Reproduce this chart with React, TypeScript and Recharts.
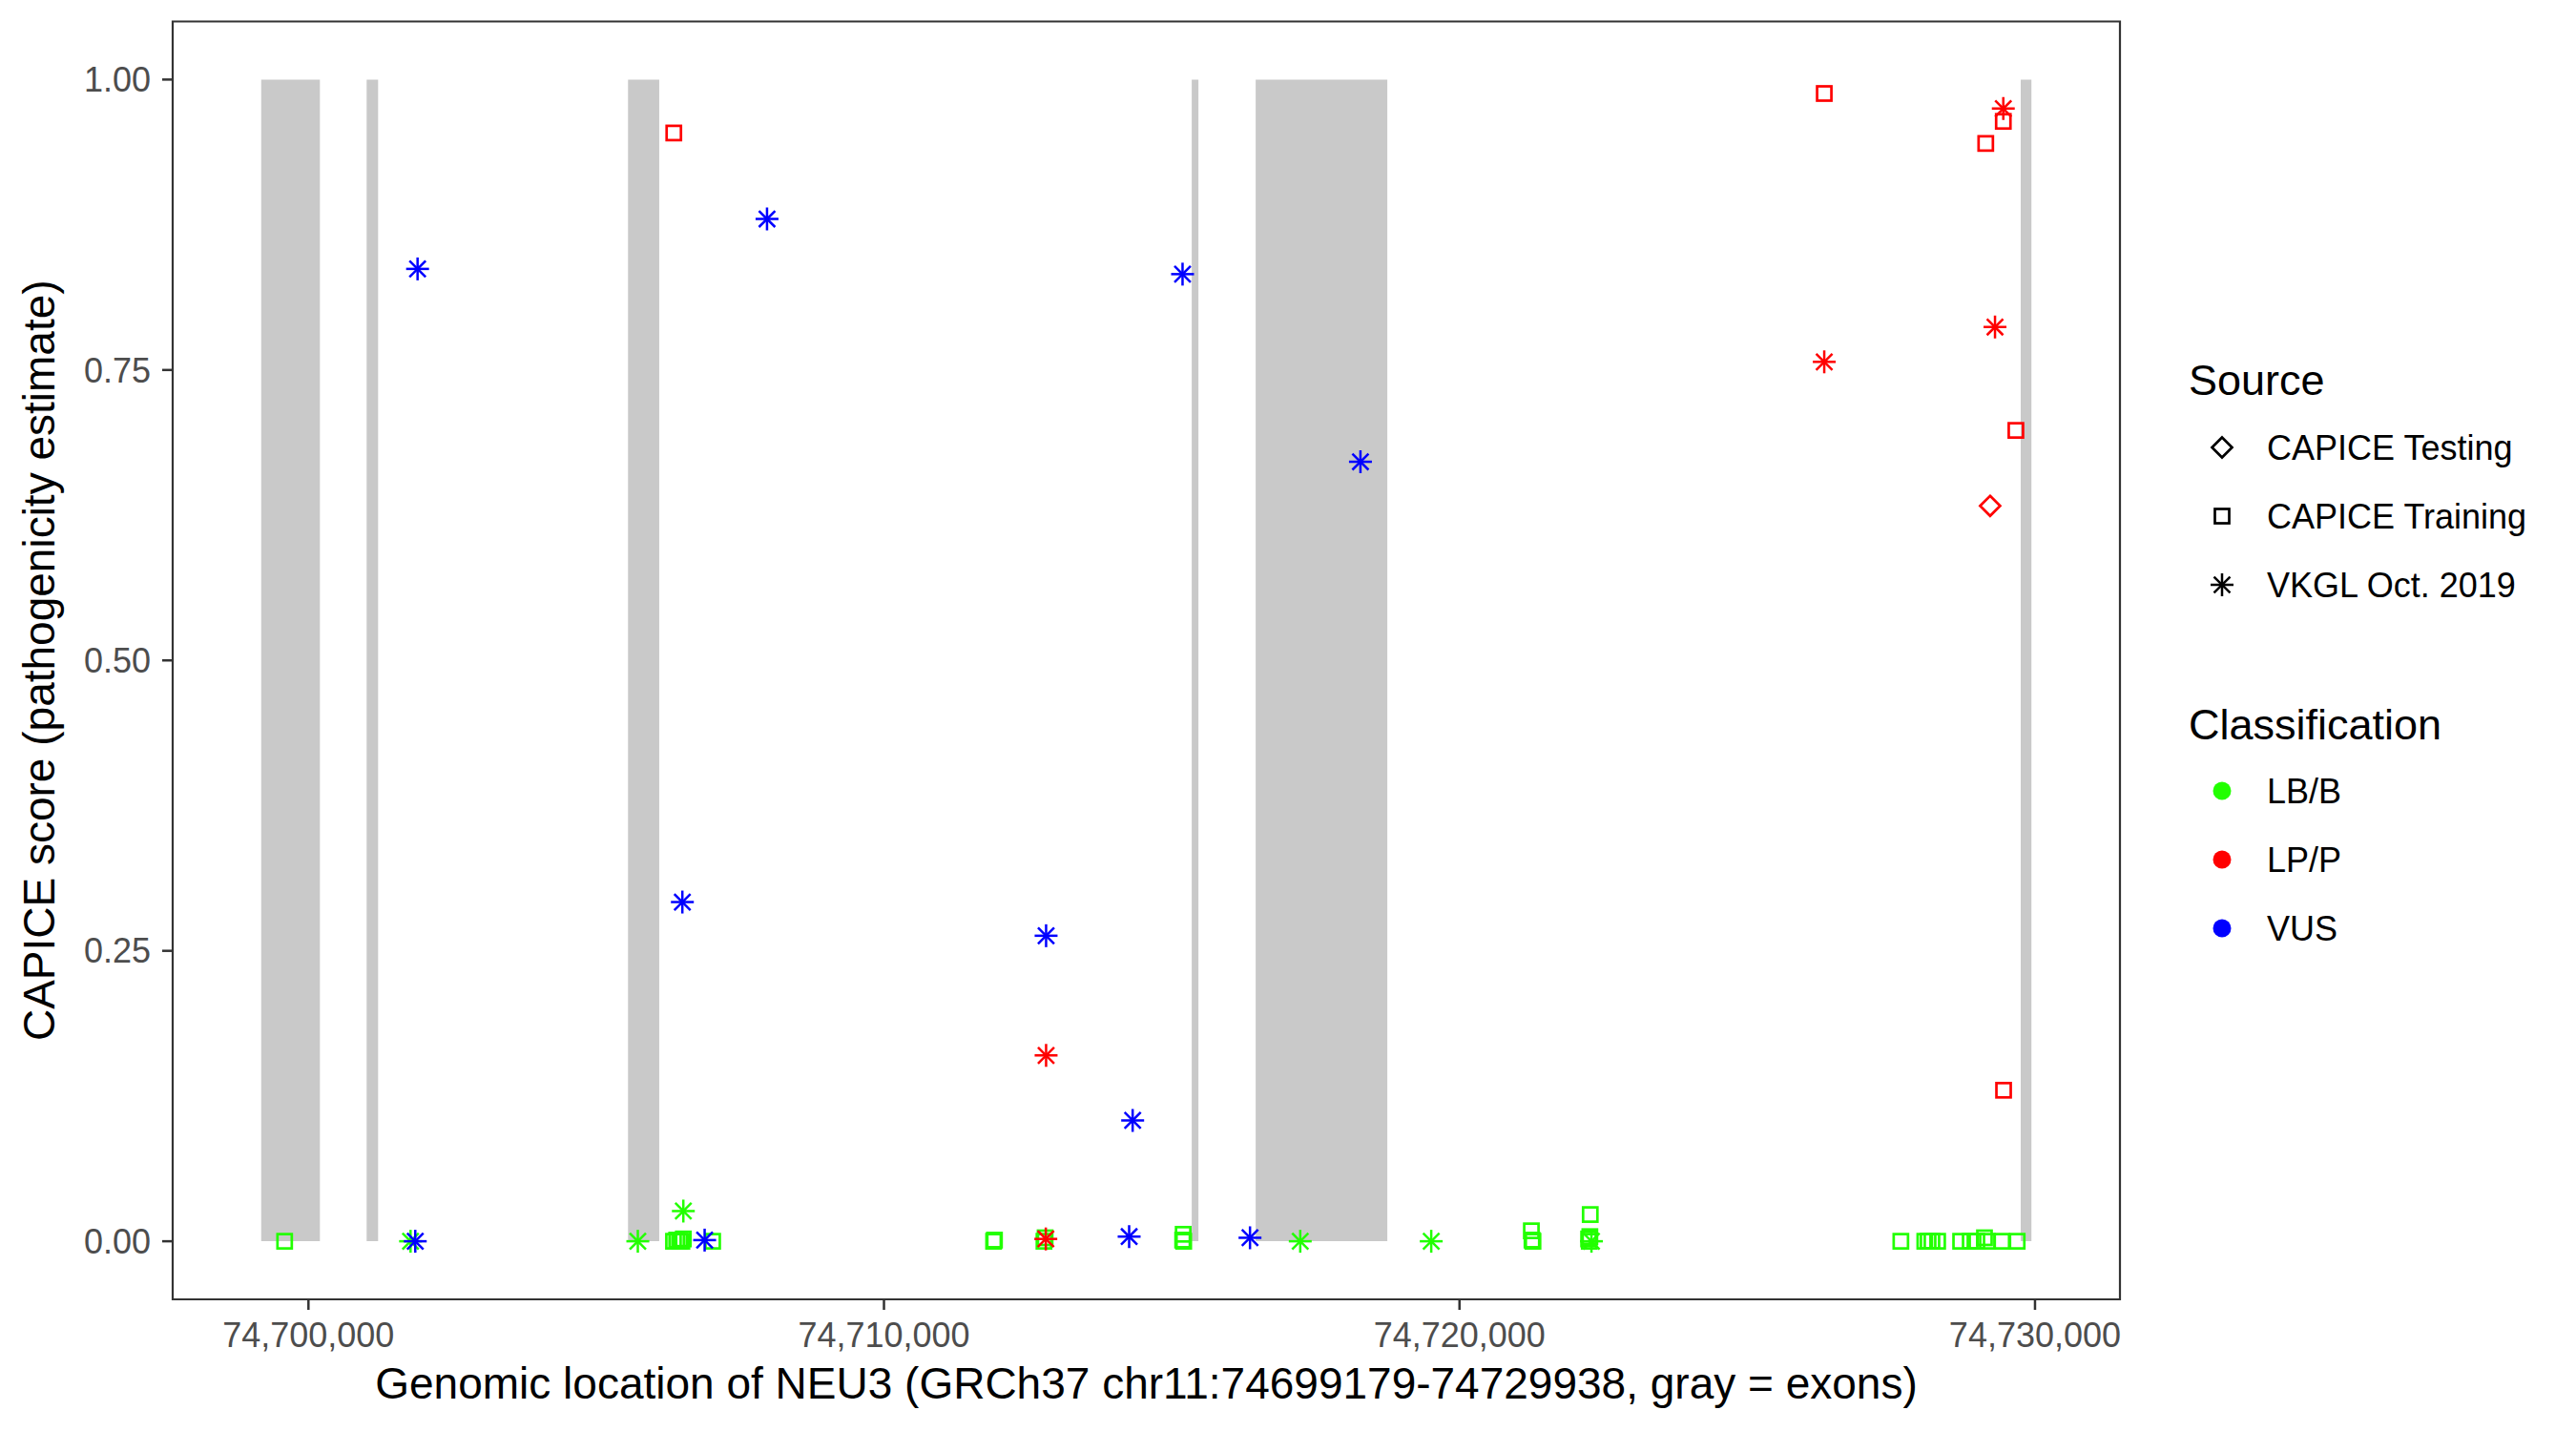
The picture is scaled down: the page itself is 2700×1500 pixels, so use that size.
import { ScatterChart, Scatter, XAxis, YAxis, ReferenceArea } from "recharts";

const FONT = '"Liberation Sans", Arial, Helvetica, sans-serif';

// gene model (gray = exons)
const exonStarts = [74699179, 74701011, 74705553, 74715348, 74716459, 74729752];
const exonEnds = [74700199, 74701210, 74706095, 74715464, 74718746, 74729938];

const xDomain = [74697641, 74731476];
const yDomain = [-0.05, 1.05];
const xTicks = [74700000, 74710000, 74720000, 74730000];
const yTicks = [0, 0.25, 0.5, 0.75, 1];

const sourceLabels = ["CAPICE Testing", "CAPICE Training", "VKGL Oct. 2019"];
const sourceShapes = ["diamond", "square", "asterisk"];
const classLabels = ["LB/B", "LP/P", "VUS"];
const classColors = ["#22FF00", "#FF0000", "#0000FF"];

// [genomic position, CAPICE score]
const trainingLbB = [
  [74699586, 0.0], [74706343, 0.0], [74706398, 0.001], [74706448, 0.0],
  [74706489, 0.0], [74706514, 0.002], [74707023, 0.0], [74711905, 0.0],
  [74711920, 0.001], [74712780, 0.0], [74712800, 0.003], [74715190, 0.001],
  [74715199, 0.006], [74715208, 0.0], [74721249, 0.009], [74721260, 0.001],
  [74721277, 0.0], [74722244, 0.002], [74722255, 0.0], [74722265, 0.004],
  [74722272, 0.023], [74727669, 0.0], [74728085, 0.0], [74728143, 0.0],
  [74728209, 0.0], [74728308, 0.0], [74728708, 0.0], [74728874, 0.0],
  [74728990, 0.0], [74729122, 0.003], [74729172, 0.0], [74729425, 0.0],
  [74729690, 0.0],
];
const trainingLpP = [
  [74706348, 0.954], [74726338, 0.988], [74729144, 0.945],
  [74729449, 0.964], [74729668, 0.698], [74729454, 0.13],
];
const testingLpP = [[74729220, 0.633]];
const vkglLbB = [
  [74701774, 0.0], [74705723, 0.0], [74706514, 0.026],
  [74717233, 0.0], [74719509, 0.0], [74722293, 0.0],
];
const vkglLpP = [
  [74712812, 0.002], [74712817, 0.16], [74726338, 0.757],
  [74729305, 0.787], [74729449, 0.975],
];
const vkglVus = [
  [74701856, 0.0], [74701896, 0.837], [74706497, 0.292], [74706884, 0.001],
  [74707968, 0.88], [74712817, 0.263], [74714260, 0.004], [74714321, 0.104],
  [74715188, 0.8325], [74716360, 0.003], [74718279, 0.671],
];

const toPoints = (rows: number[][]) => rows.map(([x, y]) => ({ x, y }));

const SW = 2.7;

function Mark({ kind, cx, cy, color }: { kind: string; cx: number; cy: number; color: string }) {
  if (kind === "square") {
    return <rect x={cx - 7.5} y={cy - 7.5} width={15} height={15} fill="none" stroke={color} strokeWidth={SW} />;
  }
  if (kind === "diamond") {
    const r = 10.5;
    return (
      <path
        d={`M${cx},${cy - r}L${cx + r},${cy}L${cx},${cy + r}L${cx - r},${cy}Z`}
        fill="none"
        stroke={color}
        strokeWidth={SW}
      />
    );
  }
  const r = 12;
  const d = r * 0.7071;
  return (
    <g stroke={color} strokeWidth={SW - 0.2}>
      <line x1={cx - r} y1={cy} x2={cx + r} y2={cy} />
      <line x1={cx} y1={cy - r} x2={cx} y2={cy + r} />
      <line x1={cx - d} y1={cy - d} x2={cx + d} y2={cy + d} />
      <line x1={cx - d} y1={cy + d} x2={cx + d} y2={cy - d} />
    </g>
  );
}

const shapeOf = (kind: string, color: string) => (p: any) =>
  <Mark kind={kind} cx={p.cx} cy={p.cy} color={color} />;

const series = [
  { key: "trLb", data: trainingLbB, kind: "square", color: classColors[0] },
  { key: "trLp", data: trainingLpP, kind: "square", color: classColors[1] },
  { key: "teLp", data: testingLpP, kind: "diamond", color: classColors[1] },
  { key: "vkLb", data: vkglLbB, kind: "asterisk", color: classColors[0] },
  { key: "vkLp", data: vkglLpP, kind: "asterisk", color: classColors[1] },
  { key: "vkVus", data: vkglVus, kind: "asterisk", color: classColors[2] },
];

const fmtPos = (v: number) => v.toLocaleString("en-US");

function XTitle(props: any) {
  const vb = props.viewBox;
  return (
    <text x={vb.x + vb.width / 2} y={1458} textAnchor="middle" fontSize={46} fontFamily={FONT} fill="#000">
      Genomic location of NEU3 (GRCh37 chr11:74699179-74729938, gray = exons)
    </text>
  );
}

function YTitle(props: any) {
  const vb = props.viewBox;
  const cy = vb.y + vb.height / 2;
  return (
    <text x={49} y={cy} transform={`rotate(-90, 49, ${cy})`} textAnchor="middle" fontSize={46} fontFamily={FONT} fill="#000">
      CAPICE score (pathogenicity estimate)
    </text>
  );
}

function LegendPanel() {
  return (
    <svg
      width={420}
      height={1100}
      style={{ position: "absolute", left: 2272, top: 0, pointerEvents: "none" }}
      fontFamily={FONT}
    >
      <text x={14} y={406} fontSize={45} fill="#000">Source</text>
      {sourceLabels.map((lab, i) => {
        const cy = 461 + i * 72;
        return (
          <g key={lab}>
            <Mark kind={sourceShapes[i]} cx={49} cy={cy} color="#000" />
            <text x={96} y={cy + 13} fontSize={36} fill="#000">{lab}</text>
          </g>
        );
      })}
      <text x={14} y={767} fontSize={45} fill="#000">Classification</text>
      {classLabels.map((lab, i) => {
        const cy = 821 + i * 72;
        return (
          <g key={lab}>
            <circle cx={49} cy={cy} r={9.5} fill={classColors[i]} />
            <text x={96} y={cy + 13} fontSize={36} fill="#000">{lab}</text>
          </g>
        );
      })}
    </svg>
  );
}

export default function App() {
  return (
    <div style={{ position: "relative", width: 2684, height: 1484 }}>
      <ScatterChart width={2684} height={1484} margin={{ top: 14.5, right: 470, bottom: 0, left: 0 }}>
        <XAxis
          type="number"
          dataKey="x"
          domain={xDomain}
          allowDataOverflow
          ticks={xTicks}
          tickFormatter={fmtPos}
          height={130}
          axisLine={false}
          tickSize={11}
          tickMargin={13}
          tickLine={{ stroke: "#333333", strokeWidth: 2.5 }}
          tick={{ fontSize: 36, fill: "#4D4D4D", fontFamily: FONT }}
          label={XTitle}
        />
        <YAxis
          type="number"
          dataKey="y"
          domain={yDomain}
          allowDataOverflow
          ticks={yTicks}
          tickFormatter={(v: number) => v.toFixed(2)}
          width={173}
          axisLine={false}
          tickSize={11}
          tickMargin={12}
          tickLine={{ stroke: "#333333", strokeWidth: 2.5 }}
          tick={{ fontSize: 36, fill: "#4D4D4D", fontFamily: FONT }}
          label={YTitle}
        />
        {exonStarts.map((s, i) => (
          <ReferenceArea
            key={`exon${i}`}
            x1={s}
            x2={exonEnds[i]}
            y1={0}
            y2={1}
            fill="#C9C9C9"
            fillOpacity={1}
            stroke="none"
          />
        ))}
        <ReferenceArea
          x1={xDomain[0]}
          x2={xDomain[1]}
          y1={yDomain[0]}
          y2={yDomain[1]}
          fill="none"
          stroke="#333333"
          strokeWidth={2.2}
        />
        {series.map((s) => (
          <Scatter
            key={s.key}
            data={toPoints(s.data)}
            shape={shapeOf(s.kind, s.color)}
            isAnimationActive={false}
          />
        ))}
      </ScatterChart>
      <LegendPanel />
    </div>
  );
}
